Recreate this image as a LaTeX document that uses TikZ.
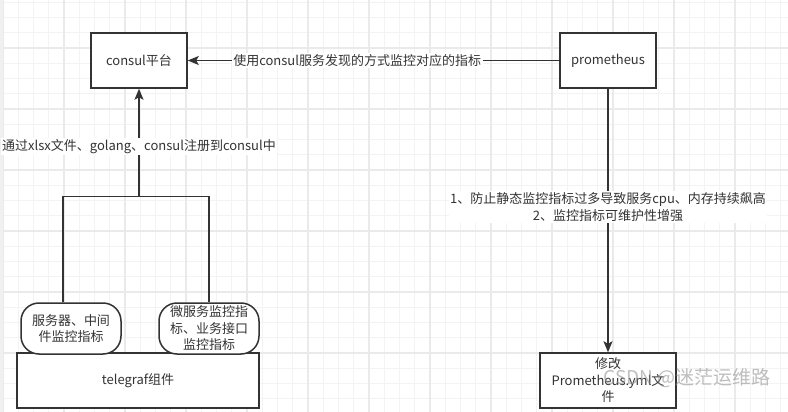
\documentclass[tikz,border=0pt]{standalone}
\usepackage{fontspec}
\setmainfont{Noto Sans CJK SC}
\usetikzlibrary{arrows.meta,positioning,calc}
\definecolor{ink}{HTML}{333333}
\definecolor{gmin}{HTML}{F3F3F3}
\definecolor{gmaj}{HTML}{EAEAEA}
\tikzset{
  box/.style={draw=ink, line width=1.5pt, fill=white, text=ink, inner sep=0pt,
              font=\fontsize{13}{16.5}\selectfont, align=center},
  rnd/.style={box, rounded corners=18pt},
  arr/.style={-{Stealth[length=11pt,width=9pt,inset=2.5pt]}, draw=ink, line width=1.4pt},
  lnk/.style={draw=ink, line width=1.4pt},
  elab/.style={fill=white, text=ink, inner sep=1.5pt,
               font=\fontsize{13}{17}\selectfont, align=center},
  gmn/.style={draw=gmin, line width=1pt},
  gmj/.style={draw=gmaj, line width=1.6pt},
  wm/.style={text=gray!85, opacity=0.6, font=\fontsize{19}{19}\selectfont},
}

\begin{document}
\begin{tikzpicture}[x=1pt, y=-1pt]
    \useasboundingbox (0,0) rectangle (788,412);
    % grid paper
    \fill[white] (0,0) rectangle (788,412);
    \foreach \i in {0,...,51}
      \draw[gmn] ({3+15.25*\i},0) -- ({3+15.25*\i},412);
    \foreach \j in {0,...,27}
      \draw[gmn] (0,{2.25+15.25*\j}) -- (788,{2.25+15.25*\j});
    \foreach \i in {0,4,...,48}
      \draw[gmj] ({3+15.25*\i},0) -- ({3+15.25*\i},412);
    \foreach \j in {3,7,...,27}
      \draw[gmj] (0,{2.25+15.25*\j}) -- (788,{2.25+15.25*\j});
    \fill[gray!12] (0,0) rectangle (3,412);

    % boxes
    \node[box, minimum width=96pt, minimum height=55pt] (consul) at (139,60.5) {consul平台};
    \node[box, minimum width=96pt, minimum height=55pt] (prom) at (608,60.5) {prometheus};
    \node[box, minimum width=242pt, minimum height=55pt] (tele) at (138,380.5) {telegraf组件};
    \node[rnd, minimum width=100pt, minimum height=51pt] (srv) at (71,328.5)
      {服务器、中间\\件监控指标};
    \node[rnd, minimum width=100pt, minimum height=51pt] (micro) at (209,328.5)
      {微服务监控指\\标、业务接口\\监控指标};
    \node[box, minimum width=136pt, minimum height=55pt] (edit) at (608,380.5)
      {修改\\Prometheus.yml文\\件};

    % connectors
    \coordinate (jn) at (139,196.7);
    \coordinate (jl) at (63,196.7);
    \coordinate (jr) at (209,196.7);
    \draw[lnk] (jl |- srv.north) -- (jl) -- (jr) -- (micro.north);
    \draw[arr] (jn) -- (consul.south)
      node[elab, pos=0.466] {通过xlsx文件、golang、consul注册到consul中};
    \draw[arr] (prom.west) -- (consul.east)
      node[elab, pos=0.544] {使用consul服务发现的方式监控对应的指标};
    \draw[arr] (prom.south) -- (edit.north)
      node[elab, pos=0.45] {1、防止静态监控指标过多导致服务cpu、内存持续飙高\\2、监控指标可维护性增强};

    % watermark
    \node[wm] (mark) at (687,378) {CSDN @迷茫运维路};
\end{tikzpicture}
\end{document}
